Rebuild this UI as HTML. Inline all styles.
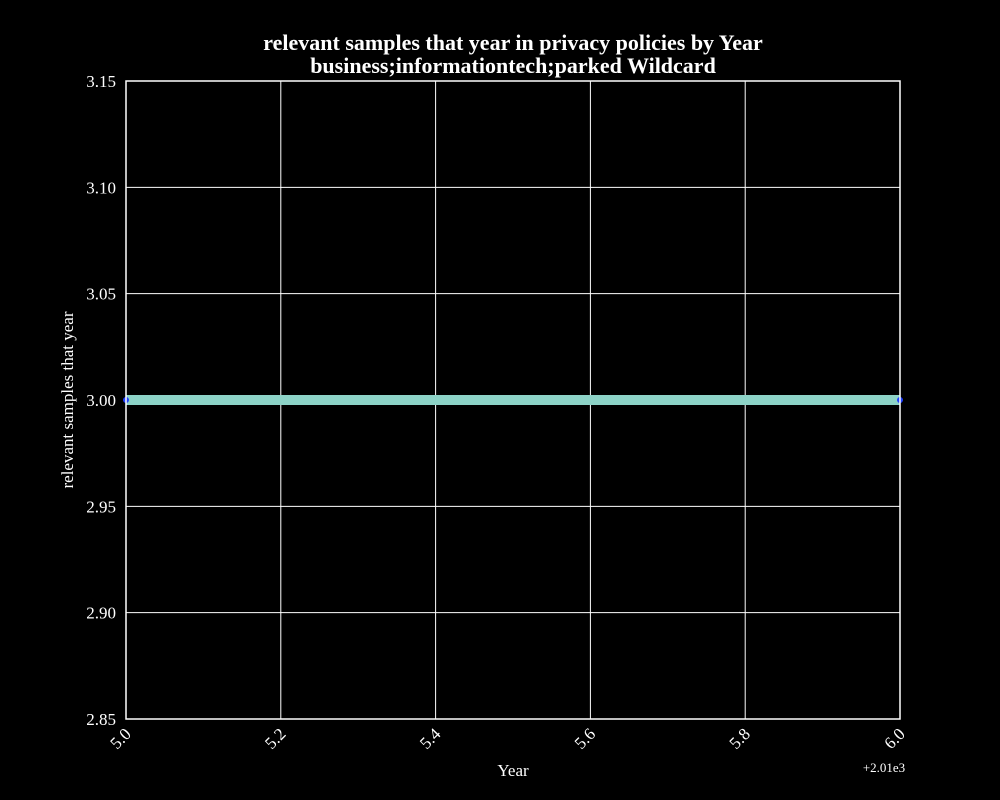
<!DOCTYPE html>
<html><head><meta charset="utf-8"><style>body{margin:0;background:#000}svg{display:block}text{font-family:"Liberation Serif",serif;fill:#fff}</style></head>
<body>
<svg id="c" width="1000" height="800">
<rect width="1000" height="800" fill="#000"/>
<text x="513" y="50" font-size="22" font-weight="bold" text-anchor="middle">relevant samples that year in privacy policies by Year</text>
<text x="513" y="73" font-size="22" font-weight="bold" text-anchor="middle">business;informationtech;parked Wildcard</text>
<text x="513" y="776" font-size="17" text-anchor="middle">Year</text>
<text x="884" y="772" font-size="13" text-anchor="middle">+2.01e3</text>
<text transform="translate(73,400) rotate(-90)" font-size="17" text-anchor="middle">relevant samples that year</text>
<g id="grid"></g><g id="marks"></g>
<rect x="126" y="81" width="774" height="638" fill="none" stroke="#fff" stroke-width="1.5"/>
</svg>
<script>
const xTicks=[5.0,5.2,5.4,5.6,5.8,6.0];
const xTickLabels=["5.0","5.2","5.4","5.6","5.8","6.0"];
const yTicks=[2.85,2.90,2.95,3.00,3.05,3.10,3.15];
const yTickLabels=["2.85","2.90","2.95","3.00","3.05","3.10","3.15"];
const years=[5.0,6.0];
const values=[3.0,3.0];
const L=126,R=900,T=81,B=719;
const xs=v=>L+(v-5.0)/(6.0-5.0)*(R-L);
const ys=v=>B-(v-2.85)/(3.15-2.85)*(B-T);
const NS="http://www.w3.org/2000/svg";
const g=document.getElementById('grid'),m=document.getElementById('marks');
function mk(tag,a,p){const e=document.createElementNS(NS,tag);for(const k in a)e.setAttribute(k,a[k]);p.appendChild(e);return e;}
xTicks.forEach((t,i)=>{const x=xs(t);
const l=mk('line',{x1:x,x2:x,y1:T,y2:B,stroke:'#fff','stroke-width':1},g);


const tx=mk('text',{x:x+6,y:735,'font-size':17,'text-anchor':'end',transform:`rotate(-45 ${x+6} 735)`},g);
tx.textContent=xTickLabels[i];

});
yTicks.forEach((t,i)=>{const y=ys(t);
const l=mk('line',{x1:L,x2:R,y1:y,y2:y,stroke:'#fff','stroke-width':1},g);


const tx=mk('text',{x:116,y:y+6,'font-size':17,'text-anchor':'end'},g);
tx.textContent=yTickLabels[i];

});
const pts=years.map((v,i)=>xs(v)+','+ys(values[i])).join(' ');
const pl=mk('polyline',{points:pts,fill:'none',stroke:'#8dd3c7','stroke-width':10},m);


years.forEach((v,i)=>{const c=mk('circle',{cx:xs(v),cy:ys(values[i]),r:3,fill:'#1f3fff'},m);

});
</script>
</body></html>
